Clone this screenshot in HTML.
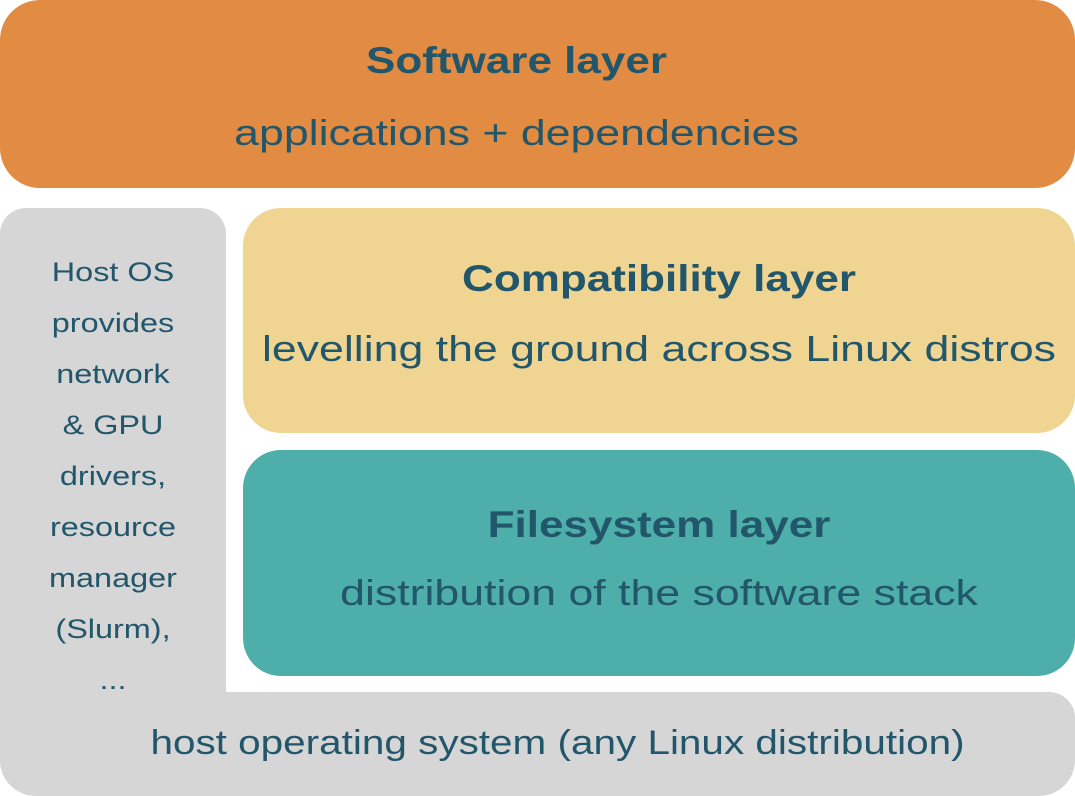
<!DOCTYPE html>
<html><head><meta charset="utf-8"><style>
body{margin:0;width:1075px;height:796px;position:relative;background:#fff;font-family:"Liberation Sans",sans-serif;color:#22566b;overflow:hidden}
.b{position:absolute;box-sizing:border-box;text-align:center}
.t{font-weight:bold;font-size:37px;position:absolute;left:0;right:0;transform:scaleX(1.19)}
.s{font-size:36px;position:absolute;left:0;right:0;transform:scaleX(1.24)}
</style></head><body>
<div class="b" style="left:0;top:0;width:1075px;height:188px;background:#e28b42;border-radius:40px">
<div class="t" style="top:40px;left:-42px">Software layer</div>
<div class="s" style="top:112px;left:-42px">applications + dependencies</div></div>
<div class="b" style="left:0;top:208px;width:226px;height:588px;background:#d6d6d6;border-radius:26px 26px 0 36px"></div>
<div class="b" style="left:0;top:692px;width:1075px;height:104px;background:#d6d6d6;border-radius:0 26px 36px 36px">
<div style="position:absolute;right:0;top:32px;font-size:34px;left:40px;transform:scaleX(1.19)">host operating system (any Linux distribution)</div></div>
<div class="b" style="left:0;top:247px;width:226px;font-size:27px;line-height:51px;transform:scaleX(1.2)">Host OS<br>provides<br>network<br>&amp; GPU<br>drivers,<br>resource<br>manager<br>(Slurm),<br>...</div>
<div class="b" style="left:243px;top:208px;width:832px;height:225px;background:#f0d592;border-radius:38px">
<div class="t" style="top:50px">Compatibility layer</div>
<div class="s" style="top:120px">levelling the ground across Linux distros</div></div>
<div class="b" style="left:243px;top:450px;width:832px;height:226px;background:#4eaea9;border-radius:38px">
<div class="t" style="top:54px">Filesystem layer</div>
<div class="s" style="top:122px">distribution of the software stack</div></div>
</body></html>
